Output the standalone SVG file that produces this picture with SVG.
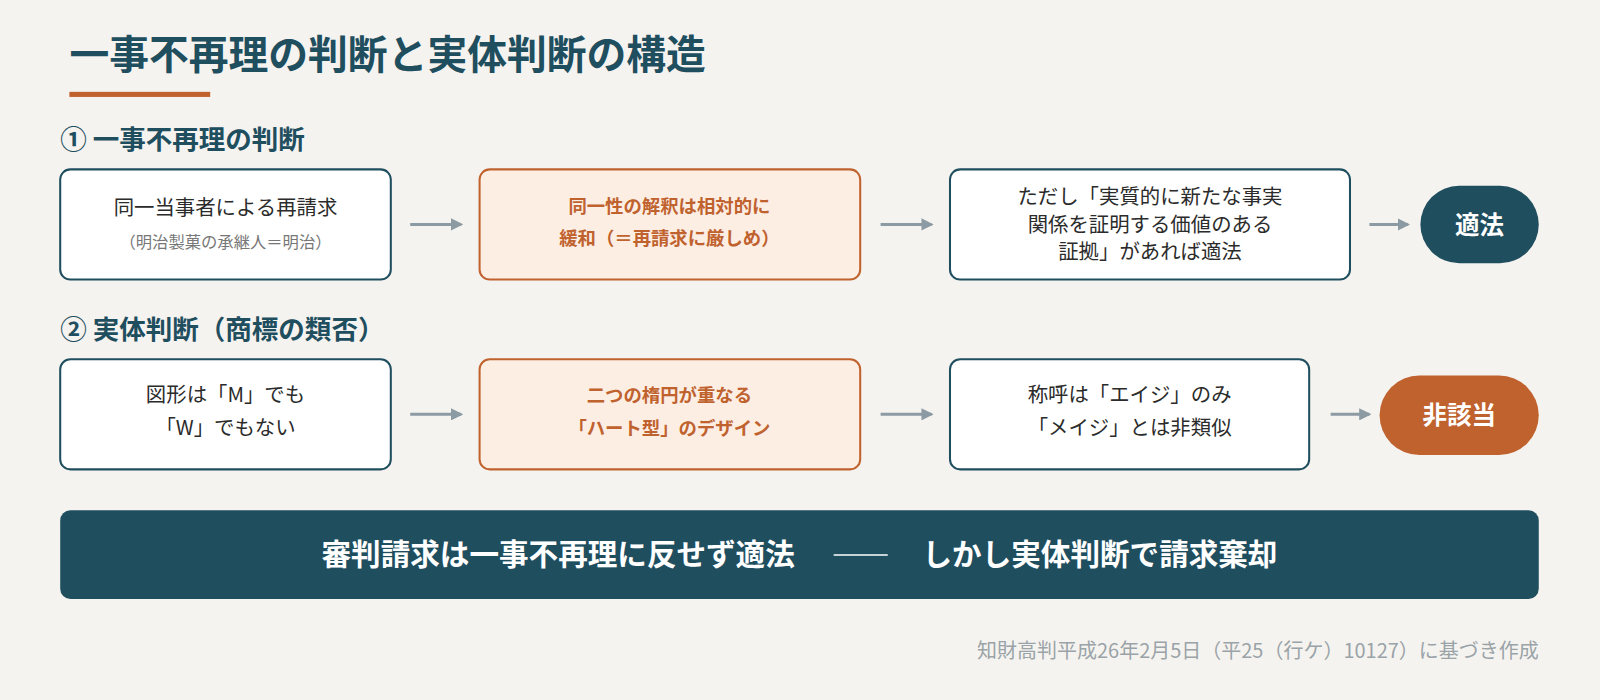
<svg xmlns="http://www.w3.org/2000/svg" width="1600" height="700" viewBox="0 0 1600 700">
<defs>
<style>
text{font-family:"Noto Sans CJK JP","Noto Sans",sans-serif}
.box{fill:#fff;stroke:#1f4e5f;stroke-width:2}
.hl{fill:#fdeee4;stroke:#c0622e;stroke-width:2}
.t{font-size:20px;fill:#2b2b2b;text-anchor:middle}
.s{font-size:16px;fill:#777;text-anchor:middle}
.o{font-size:18px;fill:#c0622e;font-weight:700;text-anchor:middle}
.sec{font-size:26px;fill:#1f4e5f;font-weight:700}
.pill{font-size:24px;fill:#fff;font-weight:700;text-anchor:middle}
.arr{stroke:#8c9aa3;stroke-width:3;marker-end:url(#ah)}
</style>
<marker id="ah" markerWidth="12" markerHeight="12" refX="10" refY="6" orient="auto" markerUnits="userSpaceOnUse" viewBox="0 0 12 12"><path d="M0,0 L12,6 L0,12 z" fill="#8c9aa3"/></marker>
</defs>
<rect width="1600" height="700" fill="#f5f3ef"/>
<g transform="scale(1.0204)">
<text x="68" y="68" font-size="39" font-weight="700" fill="#1f4e5f">一事不再理の判断と実体判断の構造</text>
<rect x="68" y="90" width="138" height="5" fill="#c0622e"/>
<text class="sec" x="59" y="146">① 一事不再理の判断</text>
<text class="sec" x="59" y="332">② 実体判断（商標の類否）</text>
<g id="n1"><rect class="box" x="59" y="166" width="324" height="108" rx="10"/><text class="t" x="221" y="211">同一当事者による再請求</text><text class="s" x="221" y="243">（明治製菓の承継人＝明治）</text></g>
<g id="n2"><rect class="hl" x="470" y="166" width="373" height="108" rx="10"/><text class="o" x="656" y="209">同一性の解釈は相対的に</text><text class="o" x="656" y="240">緩和（＝再請求に厳しめ）</text></g>
<g id="n3"><rect class="box" x="931" y="166" width="392" height="108" rx="10"/><text class="t" x="1127" y="200" font-size="15.5">ただし「実質的に新たな事実</text><text class="t" x="1127" y="227" font-size="15.5">関係を証明する価値のある</text><text class="t" x="1127" y="254" font-size="15.5">証拠」があれば適法</text></g>
<g id="n4"><rect x="1392" y="182" width="116" height="76" rx="38" fill="#1f4e5f"/><text class="pill" x="1450" y="229">適法</text></g>
<g id="n5"><rect class="box" x="59" y="352" width="324" height="108" rx="10"/><text class="t" x="221" y="394" font-size="19">図形は「M」でも</text><text class="t" x="221" y="426" font-size="19">「W」でもない</text></g>
<g id="n6"><rect class="hl" x="470" y="352" width="373" height="108" rx="10"/><text class="o" x="656" y="394">二つの楕円が重なる</text><text class="o" x="656" y="426">「ハート型」のデザイン</text></g>
<g id="n7"><rect class="box" x="931" y="352" width="352" height="108" rx="10"/><text class="t" x="1107" y="394" font-size="19">称呼は「エイジ」のみ</text><text class="t" x="1107" y="426" font-size="19">「メイジ」とは非類似</text></g>
<g id="n8"><rect x="1352" y="368" width="156" height="78" rx="39" fill="#c0622e"/><text class="pill" x="1430" y="416">非該当</text></g>
<g id="connectors">
<line class="arr" x1="402" y1="220" x2="452" y2="220"/>
<line class="arr" x1="863" y1="220" x2="913" y2="220"/>
<line class="arr" x1="1342" y1="220" x2="1380" y2="220"/>
<line class="arr" x1="402" y1="406" x2="452" y2="406"/>
<line class="arr" x1="863" y1="406" x2="913" y2="406"/>
<line class="arr" x1="1304" y1="406" x2="1342" y2="406"/>
</g>
<g id="banner"><rect x="59" y="500" width="1449" height="87" rx="10" fill="#1f4e5f"/>
<text x="547" y="554" font-size="29" font-weight="700" fill="#fff" text-anchor="middle">審判請求は一事不再理に反せず適法</text>
<line x1="817" y1="544" x2="870" y2="544" stroke="#fff" stroke-width="1.5"/>
<text x="1078" y="554" font-size="29" font-weight="700" fill="#fff" text-anchor="middle">しかし実体判断で請求棄却</text></g>
<text x="1508" y="645" font-size="19.6" fill="#9aa3a8" text-anchor="end">知財高判平成26年2月5日（平25（行ケ）10127）に基づき作成</text>
</g>
</svg>
